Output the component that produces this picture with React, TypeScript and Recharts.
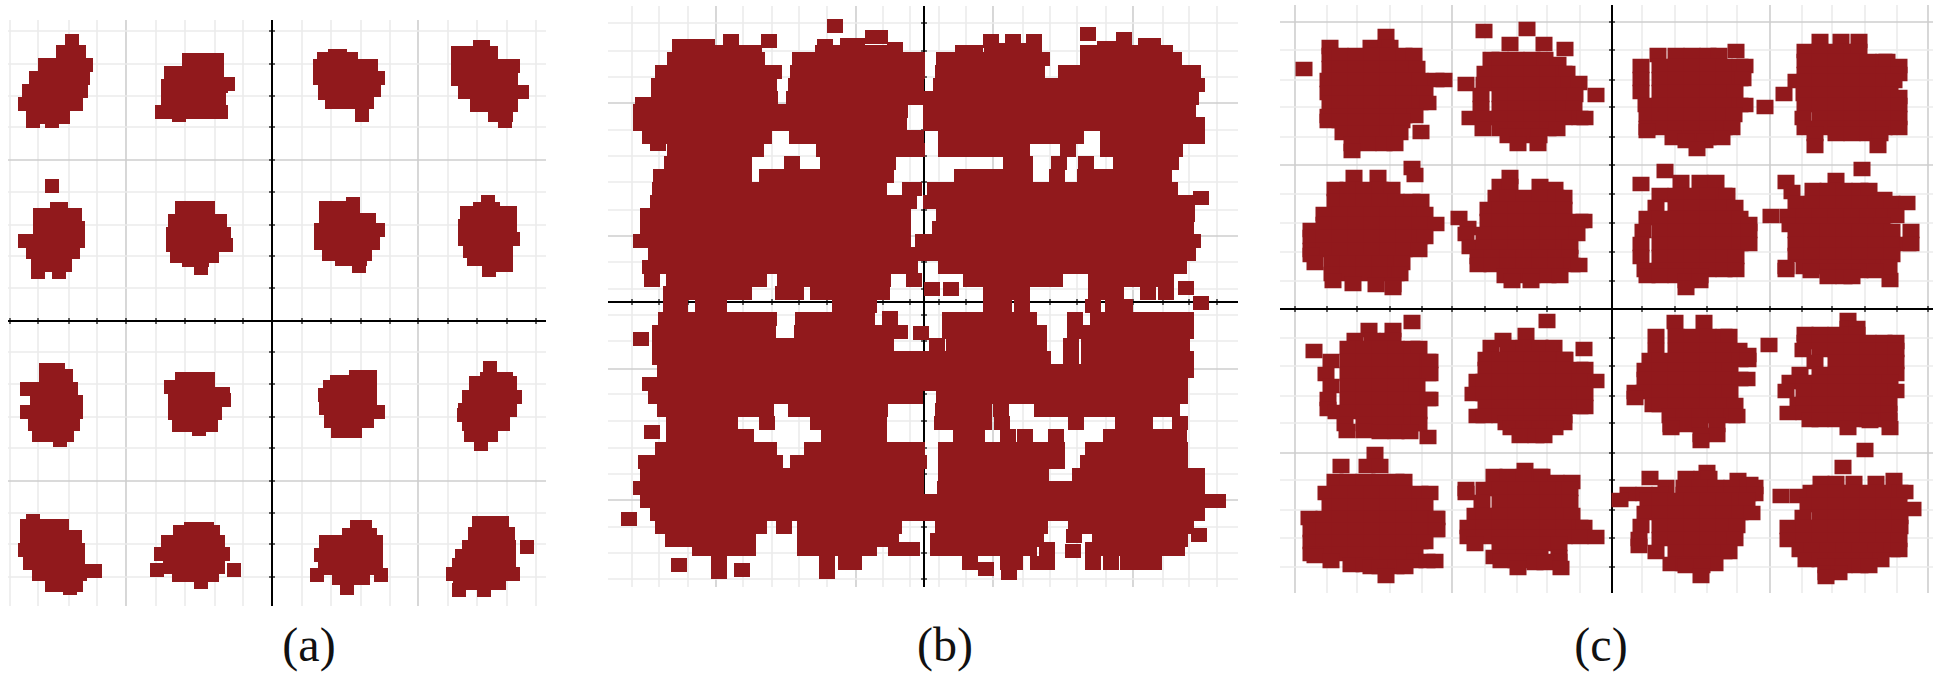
import React from "react";
import { ScatterChart, Scatter, XAxis, YAxis, ReferenceLine } from "recharts";

// Each row is [Q value, I value, I value, ...]; one unit is one division / 30 or so.
const rowsA: number[][] = [
  // cluster 1
  [280,-200],[269,-209,-200,-193],[256,-227,-213,-199,-186],[243,-236,-223,-210,-197,-189],[230,-243,-230,-217,-204,-191],[217,-247,-234,-221,-208,-196],[204,-239,-226,-213,-209],[200,-239,-220],
  // cluster 2
  [261,-83,-69,-55],[248,-101,-87,-73,-59,-55],[235,-104,-91,-78,-65,-51],[237,-44],[222,-104,-91,-78,-65,-53],[209,-110,-97,-84,-71,-58,-51],[212,-93,-80,-67],[206,-93],
  // cluster 3
  [135,-220],[112,-215,-211],[106,-232,-219,-206,-197],[93,-232,-219,-206,-194],[80,-247,-234,-221,-208,-194],[69,-239,-226,-213,-199],[56,-234,-221,-207],[49,-234,-213],
  // cluster 4
  [113,-90,-77,-64],[100,-97,-84,-71,-58,-52],[87,-99,-86,-73,-60,-48],[76,-99,-86,-73,-60,-46],[65,-95,-82,-69,-60],[61,-83,-70],[53,-71],
  // cluster 5
  [265,63,68],[262,52,65,79],[255,48,61,74,87,99],[243,48,61,74,87,100,106],[231,53,66,79,92,102],[228,53],[219,60,73,86,95],[206,90],
  // cluster 6
  [274,208,211],[268,186,199,212,219],[255,186,199,212,225,233,241],[242,186,199,212,225,239],[229,193,206,219,232,245,250],[216,205,218,231,239],[206,223,234],[200,233],
  // cluster 7
  [117,81],[113,54,67,81],[101,54,67,80,93,97],[91,49,62,75,88,101,106],[78,49,62,75,88,101],[67,57,70,83,93],[62,70,83,88],[55,87],
  // cluster 8
  [119,216],[112,208,221],[108,195,208,221,234,238],[95,193,206,219,232,238],[82,193,206,219,232,241],[70,198,211,224,234],[62,202,215,228,234],[56,230,234],[51,217],
  // cluster 9
  [-49,-226,-214],[-55,-226,-213,-206],[-68,-245,-232,-219,-206,-201],[-81,-235,-222,-209,-196],[-91,-245,-232,-219,-206,-196],[-103,-237,-224,-211,-199],[-114,-233,-220,-207,-205],[-119,-212],
  // cluster 10
  [-58,-90,-77,-64],[-66,-101,-88,-75,-64],[-73,-97,-84,-71,-58,-49],[-79,-97,-84,-71,-58,-48],[-92,-97,-84,-71,-57],[-104,-93,-80,-67,-61],[-108,-73],
  // cluster 11
  [-200,-239],[-205,-245,-232,-219,-210],[-216,-245,-232,-219,-206,-197],[-229,-247,-234,-221,-208,-194],[-242,-242,-229,-216,-203,-194],[-250,-177,-184],[-253,-233,-220,-207,-194,-192],[-264,-220,-207,-196],[-267,-202],
  // cluster 12
  [-208,-81,-68,-65],[-211,-92,-79,-66,-59],[-221,-104,-91,-78,-65,-54],[-233,-111,-98,-85,-72,-59,-49],[-246,-102,-89,-76,-63,-54],[-249,-115,-38],[-254,-93,-80,-67,-60],[-261,-71],
  // cluster 13
  [-56,84,98],[-61,65,78],[-66,58,71,84,98],[-74,53,66,79,92,98],[-87,54,67,80,93,98],[-91,106],[-100,59,72,85,95],[-110,66,79,83],
  // cluster 14
  [-47,218],[-58,215,228,234],[-62,204,217,231,238],[-76,197,210,223,236,243],[-89,193,206,219,232,238],[-94,192],[-103,197,210,223,231],[-114,199,212,219],[-123,209],
  // cluster 15
  [-206,85,93],[-214,77,90,98],[-221,54,67,80,93,104],[-234,49,62,75,88,101,104],[-247,53,66,79,92,104],[-254,45,109],[-257,67,80,91],[-267,75],
  // cluster 16
  [-202,207,220,230],[-213,203,216,229,236],[-226,197,210,223,237,255],[-235,190,203,216,229,237],[-244,187,200,213,226,237],[-253,181,194,207,220,233,241],[-262,188,201,214,227],[-269,187,212],
];

const rowsB: number[][] = [
  [276,-89],[268,164],[265,-51,-44],[261,-193,-155,67,89,110],[263,200],[256,-244,-229,-217,-99],[257,-76,-67,222,229],[253,-29],[254,181,184],
  [252,68,83,98,110],
  [250,-244,-229,-214,-199,-184,-170,-101,-86,-71,-56,-41,-30,39,51,164,179,194,209,224,239,241],
  [243,-249,-240,-225,-210,-195,-180,-167,-124,-120,-105,-90,-75,-60,-45,-30,-15,-7,20,30,45,60,75,90,105,118,164,180,195,210,225,240,250],
  [230,-261,-255,-240,-225,-210,-195,-180,-165,-150,-126,-110,-95,-80,-65,-50,-35,-20,-7,19,30,45,60,75,90,105,113,142,150,165,180,195,210,225,240,255,269],
  [217,-265,-255,-240,-225,-210,-195,-180,-165,-155,-128,-115,-100,-85,-70,-55,-40,-25,-10,-8,17,30,45,60,75,90,105,120,135,150,165,180,195,210,225,240,255,270,273],
  [204,-265,-255,-240,-225,-210,-195,-180,-165,-154,-130,-120,-105,-90,-75,-60,-45,-30,-15,0,15,30,45,60,75,90,105,120,135,150,165,180,195,210,225,240,255,267],
  [198,-281],
  [191,-283,-270,-255,-240,-225,-210,-195,-180,-165,-150,-135,-120,-105,-90,-75,-60,-45,-30,-24,7,15,30,45,60,75,90,105,120,135,150,165,180,195,210,225,240,255,264],
  [178,-283,-270,-255,-240,-225,-210,-195,-180,-165,-150,-135,-120,-105,-90,-75,-60,-45,-30,-25,7,15,30,45,60,75,90,105,120,135,150,165,180,195,210,225,240,255,270,273],
  [165,-274,-260,-245,-230,-215,-200,-185,-170,-160,-127,-115,-100,-85,-70,-55,-40,-25,-10,-8,22,30,45,60,75,90,105,120,135,150,152,184,195,210,225,240,255,270,273],
  [158,-266],
  [152,-249,-240,-225,-210,-195,-180,-168,-100,-90,-75,-60,-45,-30,-15,-7,22,30,45,60,75,90,98,144,184,195,210,225,240,251],
  [139,-252,-240,-225,-210,-195,-180,-132,-96,-90,-75,-60,-45,-36,87,101,135,162,197,210,225,240,247],
  [126,-263,-255,-240,-225,-210,-195,-180,-157,-150,-135,-120,-105,-90,-75,-60,-45,-38,38,45,60,75,90,101,133,161,175,190,205,220,235,240],
  [113,-264,-255,-240,-225,-210,-195,-180,-165,-150,-135,-120,-105,-90,-75,-60,-45,-14,-10,11,25,40,55,70,85,100,115,130,145,160,175,190,205,220,235,246],
  [104,277],
  [100,-266,-255,-240,-225,-210,-195,-180,-165,-150,-135,-120,-105,-90,-75,-60,-45,-30,-15,7,15,30,45,60,75,90,105,120,135,150,165,180,195,210,225,240,255,263],
  [87,-276,-270,-255,-240,-225,-210,-195,-180,-165,-150,-135,-120,-105,-90,-75,-60,-45,-30,-21,20,30,45,60,75,90,105,120,135,150,165,180,195,210,225,240,255,263],
  [74,-276,-270,-255,-240,-225,-210,-195,-180,-165,-150,-135,-120,-105,-90,-75,-60,-45,-30,-21,16,30,45,60,75,90,105,120,135,150,165,180,195,210,225,240,255,262],
  [61,-283,-270,-255,-240,-225,-210,-195,-180,-165,-150,-135,-120,-105,-90,-75,-60,-45,-30,-21,-1,15,30,45,60,75,90,105,120,135,150,165,180,195,210,225,240,255,269],
  [48,-268,-255,-240,-225,-210,-195,-180,-165,-150,-135,-120,-105,-90,-75,-60,-45,-30,-15,0,15,30,45,60,75,90,105,120,135,150,165,180,195,210,225,240,255,264],
  [35,-274,-260,-245,-230,-215,-200,-185,-170,-155,-140,-125,-110,-95,-80,-65,-50,-35,-20,-14,22,30,45,60,75,90,105,120,135,150,165,180,195,210,225,240,255],
  [22,-272,-250,-240,-225,-210,-195,-180,-165,-139,-125,-110,-95,-80,-65,-50,-41,-10,47,60,75,90,105,120,131,172,185,200,215,230,242],
  [13,8,27],[14,262],
  [9,-253,-240,-225,-210,-195,-180,-141,-128,-106,-95,-80,-65,-50,-42,67,80,95,98,172,185,192,224,242],
  [-1,277],
  [-4,-253,-244,-221,-205,-84,-70,-55,67,80,98,169,189,201],
  [-16,-34],
  [-17,-258,-245,-230,-215,-200,-185,-170,-155,-121,-110,-95,-80,-65,-57,26,40,55,70,85,100,105,151,174,190,205,220,235,250,262],
  [-31,-3],
  [-30,-264,-250,-235,-220,-205,-190,-175,-165,-156,-122,-110,-95,-80,-65,-50,-35,-24,26,40,55,70,85,100,115,151,165,180,195,210,225,240,255,262],
  [-37,-283],
  [-43,-264,-255,-240,-225,-210,-195,-180,-165,-150,-135,-120,-105,-90,-75,-60,-45,-38,13,30,45,60,75,90,105,115,147,165,180,195,210,225,240,255,258],
  [-56,-264,-255,-240,-225,-210,-195,-180,-165,-150,-135,-120,-105,-90,-75,-60,-45,-30,-15,0,15,30,45,60,75,90,105,119,147,165,180,195,210,225,240,255,262],
  [-69,-259,-245,-230,-215,-200,-185,-170,-155,-140,-125,-110,-95,-80,-65,-50,-35,-20,-5,10,25,40,55,70,85,100,115,130,145,160,175,190,205,220,235,250,262],
  [-82,-274,-260,-245,-230,-215,-200,-185,-170,-155,-140,-125,-110,-95,-80,-65,-50,-35,-20,-5,10,25,40,55,70,85,100,115,130,145,160,175,190,205,220,235,250,256],
  [-95,-268,-255,-240,-225,-210,-195,-180,-165,-150,-135,-120,-105,-90,-75,-60,-45,-30,-15,-9,20,30,45,60,75,90,105,120,135,150,165,180,195,210,225,240,256],
  [-108,-259,-245,-230,-215,-200,-185,-170,-158,-128,-115,-100,-85,-70,-55,-44,19,30,45,60,77,118,130,145,160,175,190,205,220,235,248],
  [-121,-250,-240,-225,-210,-194,-157,-106,-95,-80,-65,-50,-45,18,30,45,60,78,152,199,215,221,256],
  [-130,-272],
  [-134,-250,-240,-225,-210,-195,-180,-178,-95,-80,-65,-50,-45,37,53,84,101,132,187,200,215,230,245,255],
  [-147,-261,-250,-235,-220,-205,-190,-175,-160,-155,-112,-100,-85,-70,-55,-40,-25,-10,-7,22,35,50,65,80,95,110,125,133,169,185,200,215,230,245,256],
  [-160,-278,-265,-250,-235,-220,-205,-190,-175,-160,-149,-126,-115,-100,-85,-70,-55,-40,-25,-10,-5,22,35,50,65,80,95,110,125,133,164,180,195,210,225,240,256],
  [-173,-276,-265,-250,-235,-220,-205,-190,-175,-160,-145,-130,-115,-100,-85,-70,-55,-40,-25,-10,-8,22,35,50,65,80,95,110,117,156,170,185,200,215,230,245,260,273],
  [-186,-283,-270,-255,-240,-225,-210,-195,-180,-165,-150,-135,-120,-105,-90,-75,-60,-45,-30,-15,-8,21,35,50,65,80,95,110,125,140,155,170,185,200,215,230,245,260,273],
  [-199,-276,-265,-250,-235,-220,-205,-190,-175,-160,-145,-130,-115,-100,-85,-70,-55,-40,-25,-10,5,20,35,50,65,80,95,110,125,140,155,170,185,200,215,230,245,260,275,290,294],
  [-212,-266,-255,-240,-225,-210,-195,-180,-165,-150,-135,-120,-105,-90,-75,-60,-45,-30,-15,0,15,30,45,60,75,90,105,120,135,150,165,180,195,210,225,240,255,270,273],
  [-217,-295],
  [-225,-261,-250,-235,-220,-205,-190,-175,-165,-140,-119,-105,-90,-75,-60,-45,-30,19,35,50,65,80,95,110,116,152,165,180,195,210,225,240,255,262],
  [-233,275],[-234,150],
  [-238,-251,-240,-225,-210,-195,-180,-176,-119,-105,-90,-75,-60,-45,-33,14,30,45,60,75,90,105,112,176,190,205,220,235,250,256],
  [-247,-224,-210,-195,-180,-176,-119,-105,-90,-75,-60,-55,-28,-12,14,30,45,60,75,90,105,123,169,185,200,215,230,245,253],
  [-249,149],
  [-261,-205,-97,-78,-70,46,84,91,114,123,169,187,204,220,230],
  [-263,-245],[-267,62],[-268,-182],
  [-270,-205,-97],[-271,85],
];

const rowsC: number[][] = [
  // cluster 1
  [240,-308],[177,-191],
  [273,-226],[262,-282,-241,-226,-222],[254,-282,-272,-256,-240,-224,-208,-198],[241,-282,-272,-256,-240,-224,-208,-195],[229,-284,-272,-256,-240,-224,-208,-192,-176,-168],[216,-284,-272,-256,-240,-224,-208,-192,-187],[206,-282,-272,-256,-240,-224,-208,-192,-184],[193,-284,-272,-256,-240,-224,-208,-197],[188,-284,-272,-256,-240,-224,-210],[176,-269,-256,-240,-224,-212],[165,-260,-244,-228,-217],[158,-260],
  // cluster 2
  [278,-128],[280,-85],[260,-47],
  [265,-102,-68],[250,-121,-112,-96,-80,-67],[245,-54],[236,-127,-112,-96,-80,-64,-48,-45],[225,-146,-128,-112,-96,-80,-64,-48,-43],[226,-33],[214,-131,-112,-96,-80,-64,-48,-37,-16],[201,-131,-112,-96,-80,-64,-48,-38],[191,-142,-128,-112,-96,-80,-64,-48,-32,-27],[180,-129,-112,-96,-80,-64,-55],[173,-104,-88,-73],[165,-94,-74],
  // cluster 3
  [141,-200],[134,-197],
  [132,-258,-234],[120,-277,-264,-248,-232,-220],[108,-277,-264,-248,-232,-216,-200,-191],[95,-288,-272,-256,-240,-224,-208,-192,-187],[85,-288,-272,-256,-240,-224,-208,-192,-176],[79,-301],[72,-301,-288,-272,-256,-240,-224,-208,-192,-187],[59,-301,-288,-272,-256,-240,-224,-208,-193],[54,-301],[46,-297,-280,-264,-248,-232,-216,-210],[35,-280,-264,-248,-232,-216,-212],[28,-279],[25,-259],[24,-236,-219],[21,-219],
  // cluster 4
  [132,-102],[123,-112,-102,-72],[120,-57],[112,-116,-104,-88,-72,-56,-48],[100,-124,-112,-96,-80,-64,-48],[88,-124,-112,-96,-80,-64,-48,-32,-28],[91,-153],[81,-144],[75,-146,-128,-112,-96,-80,-64,-48,-35],[62,-142,-128,-112,-96,-80,-64,-48,-42],[52,-134,-120,-104,-88,-72,-56,-42],[44,-134,-120,-104,-88,-72,-56,-40,-33],[33,-107,-96,-80,-64,-52],[28,-100,-81],
  // cluster 5
  [258,124],[254,46,64,80,96,107],[243,29,48,64,80,96,112,128,133],[230,29,48,64,80,96,112,128,131],[217,29,48,64,80,96,112,123],[204,34,48,64,80,96,112,128,133],[194,35,48,64,80,96,112,122],[181,35,48,64,80,96,112,120],[178,35],[171,61,80,96,110],[168,74,93],[160,85],
  // cluster 6
  [268,208,229,247],[258,193,208,224,240,247],[248,193,208,224,240,256,272,275],[243,287],[235,193,208,224,240,256,272,287],[228,184,193,208,224,240,256,272,282],[215,172,192,208,224,240,256,272,278],[212,287],[204,193,208,224,240,256,272,287],[202,153],[191,191,208,224,240,256,272,287],[181,193,208,224,240,256,272,287],[175,203,224,240,256,268],[163,203,266],
  // cluster 7
  [125,29],[138,53],
  [127,69,88,104],[114,48,64,80,96,112,115],[102,44,64,80,96,112,123],[91,35,48,64,80,96,112,128],[85,137],[78,31,48,64,80,96,112,128,137],[65,29,48,64,80,96,112,128,137],[52,29,48,64,80,96,112,124],[39,33,48,64,80,96,112,124],[33,35,48,64,80,88],[28,74,88],[21,74],
  // cluster 8
  [140,250],[29,278],
  [129,224],[127,174],[119,201,216,232,248,257],[117,180],[110,272],[106,184,200,216,232,248,264,280,295],[93,159,176,192,208,224,240,256,272,284],[84,178,192,208,224,240,256,270],[78,184,200,216,232,248,264,280,299],[65,184,200,216,232,248,264,280,296,299],[54,184,200,216,232,248,264,280],[42,174,192,208,224,240,256,272,277],[39,174],[38,199,216,232,248,263],[32,216,232,240],
  // cluster 9
  [-13,-200],[-128,-184],
  [-21,-243,-219],[-31,-257,-240,-224,-219],[-39,-264,-248,-232,-216,-200,-193],[-42,-298],[-52,-281,-264,-248,-232,-216,-200,-184,-182],[-65,-286,-264,-248,-232,-216,-200,-184,-182],[-77,-281,-264,-248,-232,-216,-200,-195],[-90,-284,-264,-248,-232,-216,-200,-184,-182],[-100,-284],[-103,-276,-264,-248,-232,-216,-200,-193],[-115,-267,-248,-232,-216,-200,-193],[-122,-265,-248],[-123,-232,-216,-202],
  // cluster 10
  [-12,-65],[-40,-28],
  [-26,-86],[-31,-109],[-38,-121,-104,-88,-72,-58],[-50,-126,-112,-96,-80,-64,-48,-47],[-60,-126,-112,-96,-80,-64,-48,-32,-27],[-72,-135,-128,-112,-96,-80,-64,-48,-32,-16],[-85,-139,-128,-112,-96,-80,-64,-48,-32,-27],[-98,-126,-112,-96,-80,-64,-48,-32,-27],[-107,-135,-128,-112,-96,-80,-64,-48],[-114,-106,-96,-80,-64,-48],[-119,-101,-88,-72,-57],[-127,-92,-76,-68],
  // cluster 11
  [-145,-237],[-157,-271,-245,-232],[-172,-277,-264,-248,-232,-216,-208],[-184,-286,-272,-256,-240,-224,-208,-192,-182],[-197,-282,-272,-256,-240,-224,-208,-192,-187],[-209,-303,-288,-272,-256,-240,-224,-208,-192,-176,-175],[-221,-301,-288,-272,-256,-240,-224,-208,-192,-176,-175],[-233,-301,-288,-272,-256,-240,-224,-208,-192,-187],[-245,-301,-288,-272,-256,-240,-224,-208,-197],[-247,-297],[-252,-281,-197,-185,-177],[-256,-261,-248],[-258,-241,-232,-216,-207],[-267,-226],
  // cluster 12
  [-161,-87],[-167,-118,-104,-88,-72,-70],[-173,-56,-40],[-180,-146,-128,-112,-96,-80,-64,-48,-42],[-184,-146],[-193,-130,-112,-96,-80,-64,-48,-42],[-206,-137,-128,-112,-96,-80,-64,-48,-40],[-218,-144,-128,-112,-96,-80,-64,-48,-32,-28],[-228,-144,-128,-112,-96,-80,-64,-48,-32,-16],[-235,-137,-112,-96,-80,-64,-53],[-248,-118,-104,-88,-72,-53],[-252,-111,-96,-80,-64,-53],[-254,-77,-67],[-259,-94,-51],
  // cluster 13
  [-36,157],
  [-13,63,92],[-27,44,64,80,96,112,117],[-41,44,64,80,96,112,127],[-46,136],[-51,38,48,64,80,96,112,128,136],[-61,33,48,64,80,96,112,118],[-70,33,48,64,80,96,112,128,135],[-83,23,32,48,64,80,96,112,118],[-89,23],[-96,41,48,64,80,96,112,123],[-107,58,72,88,104,120,125],[-116,59,72,88,105],[-119,59],[-126,89,105],[-132,89],
  // cluster 14
  [-141,253],
  [-11,236],[-19,236,245],[-25,193,208,224,240,245],[-33,193,208,224,240,256,272,284],[-41,191,208,224,240,256,272,284],[-53,203,224,240,256,272,284],[-65,188,208,224,240,256,272,284],[-73,178,192,208,224,240,256,272,278],[-82,174,192,208,224,240,256,272,284],[-95,186,192,208,224,240,256,272,277],[-104,176,192,208,224,240,256,272,277],[-111,198,208,224,240,256,272,277],[-112,258],[-119,236,278],
  // cluster 15
  [-163,95],[-169,38,74,90,97],[-171,126],[-175,138],[-178,54,72,88,104,120,136,143],[-185,16,32,48,72,88,104,120,136,143],[-191,8,36,48,64,80,96,112,128,135],[-204,33,48,64,80,96,112,128,140],[-217,29,48,64,80,96,112,125],[-230,27,48,64,80,96,112,123],[-237,27],[-243,44,64,80,96,112,117],[-255,59,72,88,103],[-257,74,90],[-267,89],
  // cluster 16
  [-158,231],[-200,301],
  [-171,282],[-174,209,224,242,264],[-183,199,208,224,240,256,272,288,293],[-187,169,186],[-196,196,208,224,240,256,272,287],[-208,191,208,224,240,256,272,288],[-218,176,192,208,224,240,256,272,288],[-231,176,192,208,224,240,256,272,287],[-241,188,200,216,232,248,264,280,287],[-251,194,208,224,240,256,269],[-257,214,232,248,257],[-264,214,227],[-268,214],
];

const gridAX = [-262,-234,-203,-175,-146,-116,-87,-57,-29,30,59,89,118,146,176,205,235,264];
const gridAY = [290,257,225,194,161,129,96,65,33,-31,-63,-96,-127,-160,-192,-223,-256];
const gridBX = [-292,-265,-236,-208,-181,-152,-125,-97,-68,-41,-14,15,42,69,99,126,153,182,209,239,265,293];
const gridBY = [279,251,225,199,172,146,120,92,66,40,13,-13,-39,-67,-92,-119,-146,-172,-198,-225,-251,-277];
const gridCX = [-317,-285,-255,-222,-190,-160,-127,-95,-65,-32,30,63,95,125,158,190,220,253,285,316];
const gridCY = [287,259,229,202,172,144,115,86,57,28,-29,-57,-87,-114,-144,-171,-201,-229,-258];
const darkAX = [-146,146];
const darkAY = [161,-160];
const darkBX = [-208,-68,69,209];
const darkBY = [199,66,-67,-198];
const darkCX = [-317,-160,158,316];
const darkCY = [287,144,-144];

const RED = "#91191c";
const LIGHT = "#ebebeb";
const DARK = "#cecece";

type PanelProps = {
  rows: number[][]; gridX: number[]; gridY: number[]; darkX: number[]; darkY: number[];
  left: number; width: number; originX: number; originY: number;
  xMin: number; xMax: number; yMin: number; yMax: number; markW: number; markH: number;
};

const HEIGHT = 640;

function Panel(p: PanelProps) {
  const points = p.rows.flatMap(([y, ...xs]) => xs.map((x) => ({ x, y })));
  const square = (s: any) => (
    <rect x={s.cx - p.markW / 2} y={s.cy - p.markH / 2} width={p.markW} height={p.markH} fill={RED} />
  );
  const vline = (x: number, stroke: string, w: number, key: string) => (
    <ReferenceLine key={key} ifOverflow="visible" stroke={stroke} strokeWidth={w}
      segment={[{ x, y: p.yMax }, { x, y: p.yMin }]} />
  );
  const hline = (y: number, stroke: string, w: number, key: string) => (
    <ReferenceLine key={key} ifOverflow="visible" stroke={stroke} strokeWidth={w}
      segment={[{ x: p.xMin, y }, { x: p.xMax, y }]} />
  );
  return (
    <div style={{ position: "absolute", left: p.left, top: 0 }}>
      <ScatterChart width={p.width} height={HEIGHT} margin={{ top: 0, right: 0, bottom: 0, left: 0 }}>
        <XAxis type="number" dataKey="x" hide domain={[-p.originX, p.width - p.originX]} allowDataOverflow />
        <YAxis type="number" dataKey="y" hide domain={[p.originY - HEIGHT, p.originY]} allowDataOverflow />
        {p.gridX.map((v) => vline(v, p.darkX.includes(v) ? DARK : LIGHT, 1.6, `gx${v}`))}
        {p.gridY.map((v) => hline(v, p.darkY.includes(v) ? DARK : LIGHT, 1.6, `gy${v}`))}
        {vline(0, "#000", 2, "axisY")}
        {hline(0, "#000", 2, "axisX")}
        {p.gridX.map((v) => (
          <ReferenceLine key={`tx${v}`} ifOverflow="visible" stroke="#000" strokeWidth={1.2}
            segment={[{ x: v, y: 3 }, { x: v, y: -3 }]} />
        ))}
        {p.gridY.map((v) => (
          <ReferenceLine key={`ty${v}`} ifOverflow="visible" stroke="#000" strokeWidth={1.2}
            segment={[{ x: -3, y: v }, { x: 3, y: v }]} />
        ))}
        <Scatter data={points} shape={square} isAnimationActive={false} />
      </ScatterChart>
    </div>
  );
}

const captions = [
  { text: "(a)", center: 309 },
  { text: "(b)", center: 945 },
  { text: "(c)", center: 1601 },
];

export default function App() {
  return (
    <div style={{ position: "absolute", left: 0, top: 0, width: 1938, height: 679, background: "#fff", overflow: "hidden" }}>
      <Panel rows={rowsA} gridX={gridAX} gridY={gridAY} darkX={darkAX} darkY={darkAY} left={0} width={570}
        originX={272} originY={321} xMin={-264} xMax={274} yMin={-285} yMax={301} markW={14} markH={14} />
      <Panel rows={rowsB} gridX={gridBX} gridY={gridBY} darkX={darkBX} darkY={darkBY} left={600} width={660}
        originX={324} originY={302} xMin={-316} xMax={314} yMin={-285} yMax={296} markW={16} markH={14} />
      <Panel rows={rowsC} gridX={gridCX} gridY={gridCY} darkX={darkCX} darkY={darkCY} left={1270} width={668}
        originX={342} originY={309} xMin={-332} xMax={321} yMin={-284} yMax={304} markW={17} markH={14.5} />
      {captions.map((c) => (
        <div key={c.text} style={{ position: "absolute", left: c.center - 60, top: 618, width: 120, textAlign: "center",
          fontFamily: "'Liberation Serif', serif", fontSize: 48, lineHeight: "54px", color: "#111" }}>{c.text}</div>
      ))}
    </div>
  );
}
